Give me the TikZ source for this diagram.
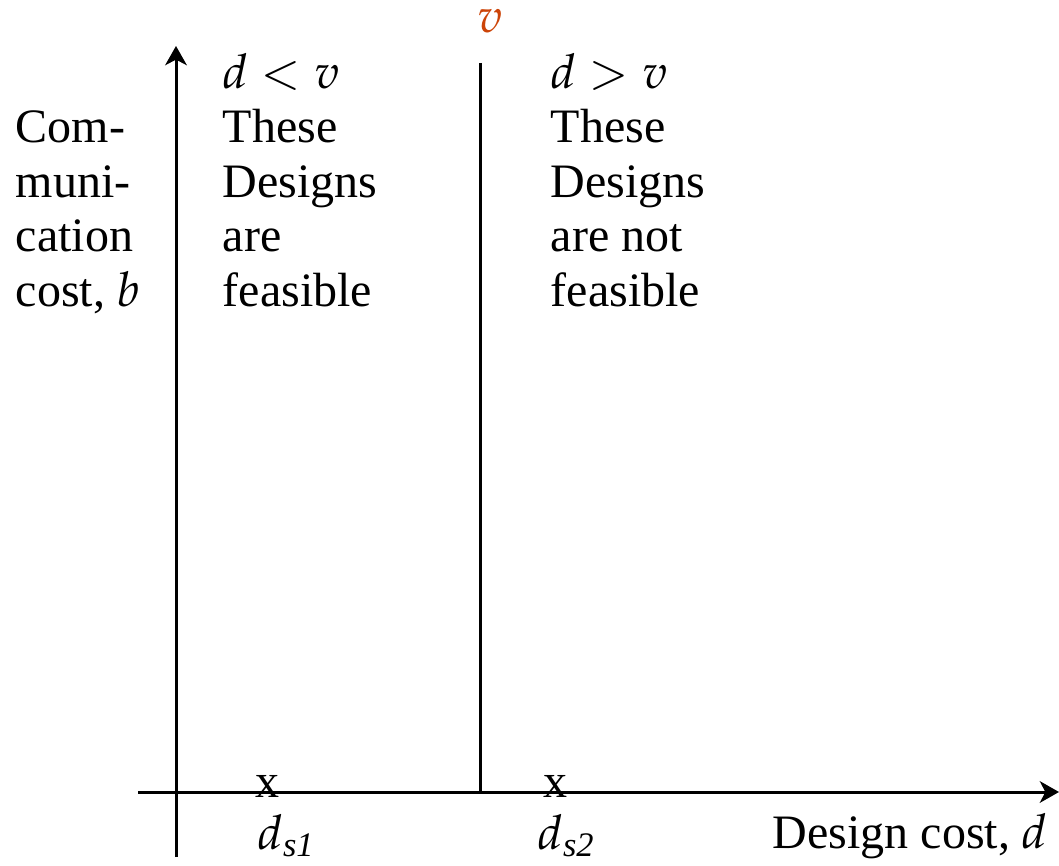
\documentclass[tikz,border=0pt]{standalone}
\usepackage{mathpazo}
\usepackage{fontspec}
\setmainfont{Liberation Serif}
\usetikzlibrary{arrows.meta}
\definecolor{vred}{RGB}{204,68,8}
\newcommand{\subit}[1]{\mbox{\fontsize{8.6}{9}\selectfont\itshape #1}}
\begin{document}
\begin{tikzpicture}[x=0.25pt,y=-0.25pt,
  axis/.style={line width=0.75pt,-{Stealth[length=4.8pt,width=5.4pt,inset=1.4pt]}},
  plain/.style={line width=0.75pt},
  lbl/.style={inner sep=0pt,align=left,font=\fontsize{12}{13.6}\selectfont},
  mk/.style={inner sep=0pt,font=\fontsize{12}{13.6}\selectfont}]
\useasboundingbox (0,0) rectangle (1059,866);
\coordinate (yb) at (176,857);
\coordinate (yt) at (176,46);
\coordinate (xl) at (138,792);
\coordinate (xr) at (1059,792);
\coordinate (vt) at (480,63);
\coordinate (vb) at (480,792);
\draw[axis] (yb) -- (yt);
\draw[axis] (xl) -- (xr);
\draw[plain] (vt) -- (vb);
\node[lbl,anchor=base,text=vred] (v) at (490,33) {$v$};
\node[lbl,anchor=base west] (ylab) at (15,306) {Com-\\muni-\\cation\\cost, $b$};
\node[lbl,anchor=base west] (left) at (222,306) {$d<v$\\These\\Designs\\are\\feasible};
\node[lbl,anchor=base west] (right) at (550,306) {$d>v$\\These\\Designs\\are not\\feasible};
\node[mk,anchor=base] (x1) at (267,797) {x};
\node[mk,anchor=base] (x2) at (555,797) {x};
\node[lbl,anchor=base west] (ds1) at (257,849) {$d_{\subit{s1}}$};
\node[lbl,anchor=base west] (ds2) at (537,849) {$d_{\subit{s2}}$};
\node[lbl,anchor=base east] (xlab) at (1048,848) {Design cost, $d$};
\end{tikzpicture}
\end{document}
